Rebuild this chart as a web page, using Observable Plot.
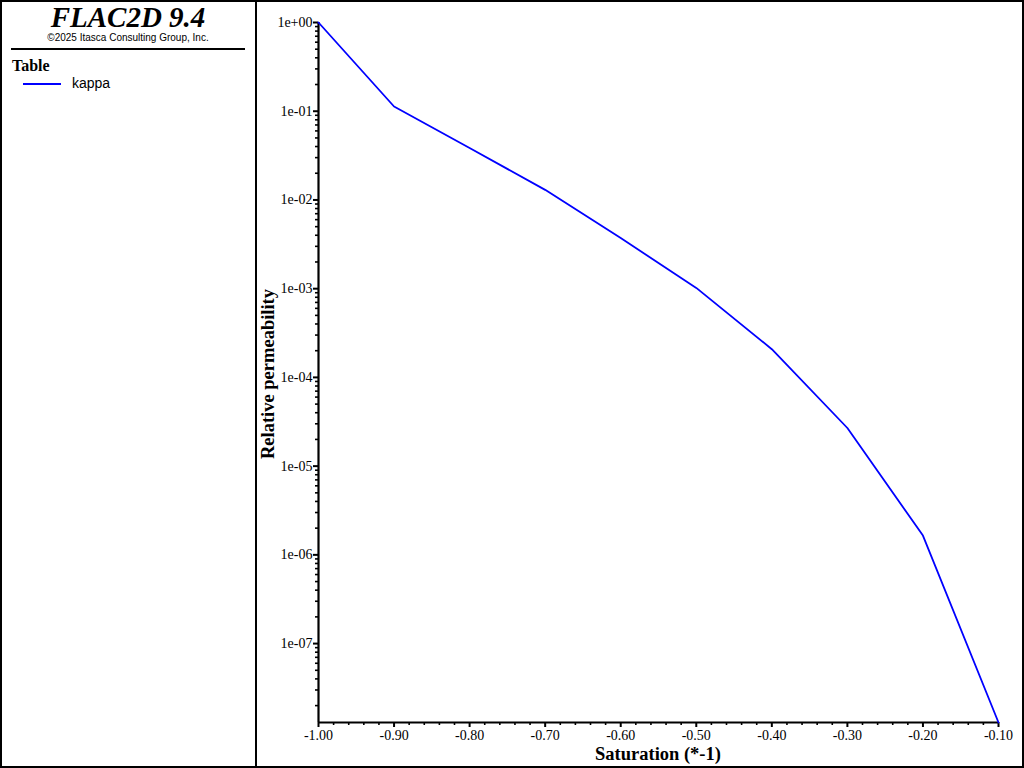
<!DOCTYPE html>
<html>
<head>
<meta charset="utf-8">
<script src="https://cdn.jsdelivr.net/npm/d3@7"></script>
<script src="https://cdn.jsdelivr.net/npm/@observablehq/plot@0.6"></script>
<style>
  html, body { margin: 0; padding: 0; background: #fff; }
  #wrap { position: relative; width: 1024px; height: 768px; overflow: hidden; }
  #wrap svg { position: absolute; left: 0; top: 0; }
  .abs { position: absolute; white-space: nowrap; color: #000; }
</style>
</head>
<body>
<div id="wrap"></div>
<script>
// ---- data ----
const saturation = [-1.0, -0.9, -0.8, -0.7, -0.6, -0.5, -0.4, -0.3, -0.2, -0.1];
const kappa = [1.0, 0.113, 0.0385, 0.0130, 0.00372, 0.00102, 2.08e-4, 2.69e-5, 1.65e-6, 1.29e-8];
const xTicks = [-1.0, -0.9, -0.8, -0.7, -0.6, -0.5, -0.4, -0.3, -0.2, -0.1];
const xTickLabels = ["-1.00", "-0.90", "-0.80", "-0.70", "-0.60", "-0.50", "-0.40", "-0.30", "-0.20", "-0.10"];
const yTicks = [1, 1e-1, 1e-2, 1e-3, 1e-4, 1e-5, 1e-6, 1e-7];
const yTickLabels = ["1e+00", "1e-01", "1e-02", "1e-03", "1e-04", "1e-05", "1e-06", "1e-07"];
const seriesName = "kappa";
const titleText = "FLAC2D 9.4";
const copyrightText = "\u00A92025 Itasca Consulting Group, Inc.";
const legendTitle = "Table";
const xLabel = "Saturation (*-1)";
const yLabel = "Relative permeability";

const data = saturation.map((s, i) => ({x: s, y: kappa[i]}));
const yMin = d3.min(kappa);
const yMax = d3.max(kappa);

// minor ticks
const xMinor = d3.range(0, 46).map(i => -1 + i * 0.02).filter(v => !xTicks.some(t => Math.abs(t - v) < 1e-9) && v <= -0.1 + 1e-9);
const yMinor = [];
for (let e = -8; e <= 0; e++) for (let m = 2; m <= 9; m++) {
  const v = m * Math.pow(10, e);
  if (v >= yMin && v <= yMax) yMinor.push(v);
}

const chart = Plot.plot({
  width: 1024,
  height: 768,
  marginLeft: 318,
  marginRight: 26,
  marginTop: 22,
  marginBottom: 46,
  style: {fontFamily: "'Liberation Serif', 'Times New Roman', serif", fontSize: "14px", color: "#000", background: "transparent", overflow: "visible"},
  x: {domain: [-1, -0.1]},
  y: {type: "log", domain: [yMin, yMax]},
  marks: [
    Plot.axisY(yMinor, {tickSize: 3, tickFormat: () => "", label: null, strokeWidth: 1.6}),
    Plot.axisY(yTicks, {tickSize: 5, tickPadding: 1, tickFormat: (d, i) => yTickLabels[yTicks.indexOf(d)], label: null, strokeWidth: 2, fontSize: 14}),
    Plot.axisX(xMinor, {tickSize: 3, tickFormat: () => "", label: null, strokeWidth: 1.6}),
    Plot.axisX(xTicks, {tickSize: 5, tickPadding: 3, tickFormat: d => xTickLabels[xTicks.findIndex(t => Math.abs(t - d) < 1e-9)], label: null, strokeWidth: 2, fontSize: 14}),
    Plot.ruleX([-1], {y1: yMin, y2: yMax, stroke: "#000", strokeWidth: 2.2}),
    Plot.ruleY([yMin], {x1: -1, x2: -0.1, stroke: "#000", strokeWidth: 2.2}),
    Plot.line(data, {x: "x", y: "y", stroke: "#0000ff", strokeWidth: 1.8})
  ]
});

const wrap = document.getElementById("wrap");
wrap.appendChild(chart);

function addDiv(html, css) {
  const d = document.createElement("div");
  d.className = "abs";
  d.innerHTML = html;
  Object.assign(d.style, css);
  wrap.appendChild(d);
  return d;
}

// frame
addDiv("", {left: "0px", top: "0px", width: "1020px", height: "764px", border: "2px solid #000"});
addDiv("", {left: "255px", top: "0px", width: "2px", height: "768px", background: "#000"});

// left panel
addDiv(titleText, {left: "0px", width: "256px", textAlign: "center", top: "0px", fontFamily: "'Liberation Serif', serif", fontStyle: "italic", fontWeight: "bold", fontSize: "29px", lineHeight: "34px"});
addDiv(copyrightText, {left: "0px", width: "256px", textAlign: "center", top: "32px", fontFamily: "'Liberation Sans', Arial, sans-serif", fontSize: "10px", lineHeight: "12px"});
addDiv("", {left: "11px", top: "48px", width: "234px", height: "2px", background: "#000"});
addDiv(legendTitle, {left: "12px", top: "56px", fontFamily: "'Liberation Serif', serif", fontWeight: "bold", fontSize: "16px", lineHeight: "20px"});
addDiv("", {left: "23px", top: "83px", width: "38px", height: "2px", background: "#0000ff"});
addDiv(seriesName, {left: "72px", top: "75px", fontFamily: "'Liberation Sans', Arial, sans-serif", fontSize: "14px", lineHeight: "16px"});

// axis titles
addDiv(xLabel, {left: "458px", width: "400px", textAlign: "center", top: "743px", fontFamily: "'Liberation Serif', serif", fontWeight: "bold", fontSize: "18.5px", lineHeight: "22px"});
addDiv(yLabel, {left: "68px", width: "400px", textAlign: "center", top: "363px", fontFamily: "'Liberation Serif', serif", fontWeight: "bold", fontSize: "18.5px", lineHeight: "22px", transform: "rotate(-90deg)"});
</script>
</body>
</html>
